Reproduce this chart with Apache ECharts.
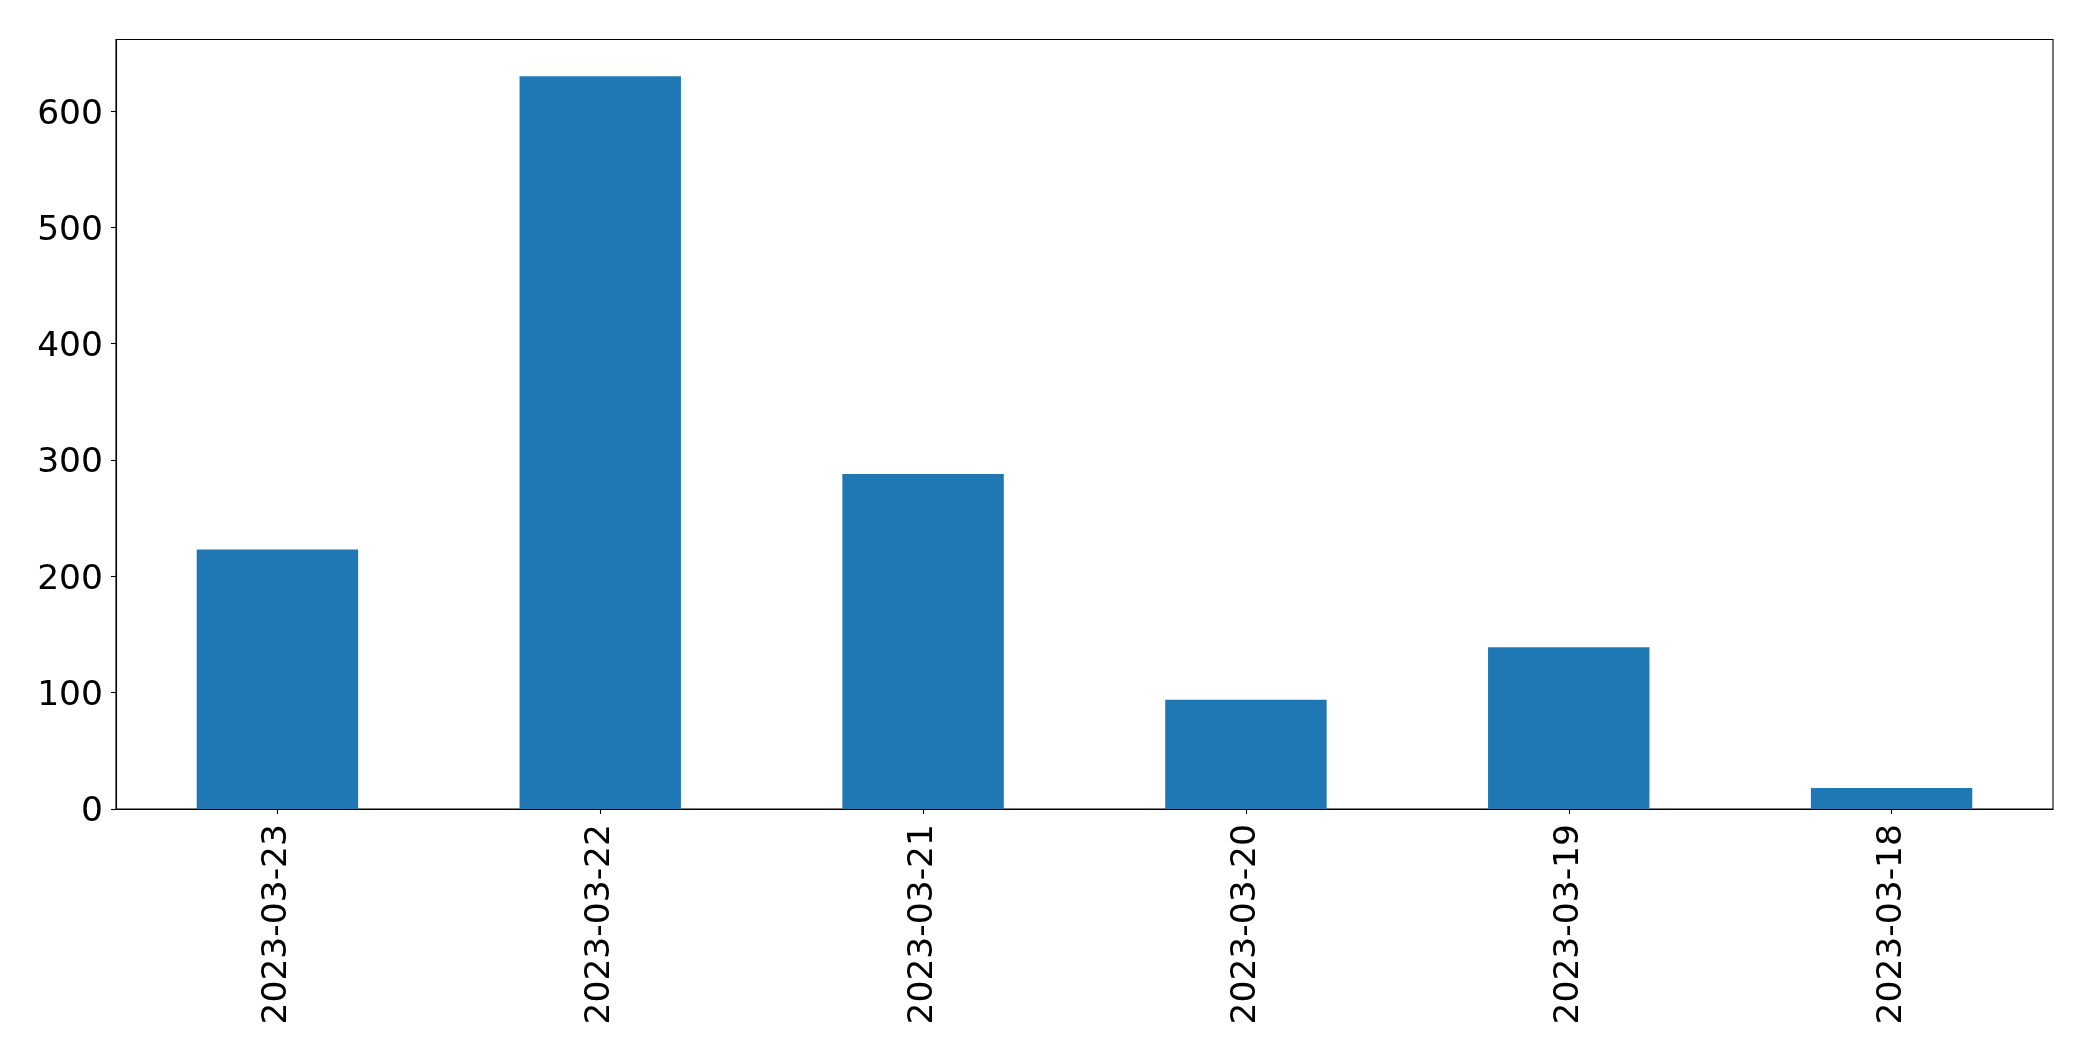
<!DOCTYPE html>
<html>
<head>
<meta charset="utf-8">
<script src="https://cdn.jsdelivr.net/npm/echarts@6/dist/echarts.min.js"></script>
<style>
html,body{margin:0;padding:0;background:#fff;}
#chart{width:2093px;height:1061px;}
</style>
</head>
<body>
<div id="chart"></div>
<script>
var categories = ['2023-03-23', '2023-03-22', '2023-03-21', '2023-03-20', '2023-03-19', '2023-03-18'];
var values = [223, 630, 288, 94, 139, 18];
var yTicks = [0, 100, 200, 300, 400, 500, 600];

var chart = echarts.init(document.getElementById('chart'), null, {renderer: 'canvas'});
var font = 'DejaVu Sans';
chart.setOption({
  animation: false,
  backgroundColor: '#ffffff',
  grid: {
    left: 116, top: 39.5, right: 40, bottom: 252,
    show: true, borderColor: '#000000', borderWidth: 1.1, backgroundColor: 'transparent',
    containLabel: false
  },
  xAxis: {
    type: 'category',
    data: categories,
    boundaryGap: true,
    axisLine: {show: true, lineStyle: {color: '#000', width: 1.1}},
    axisTick: {show: true, alignWithLabel: true, length: 5, lineStyle: {color: '#000', width: 1.1}},
    axisLabel: {rotate: 90, margin: 15, color: '#000', fontFamily: font, fontSize: 34.5},
    splitLine: {show: false}
  },
  yAxis: {
    type: 'value',
    min: 0,
    max: 661.5,
    interval: 100,
    axisLine: {show: true, lineStyle: {color: '#000', width: 1.1}},
    axisTick: {show: true, length: 5, lineStyle: {color: '#000', width: 1.1}, customValues: yTicks},
    axisLabel: {
      margin: 13, color: '#000', fontFamily: font, fontSize: 34.5, customValues: yTicks,
      formatter: '{v|{value}}',
      rich: {v: {color: '#000', fontFamily: font, fontSize: 34.5, padding: [7, 0, 0, 0]}}
    },
    splitLine: {show: false}
  },
  series: [{
    type: 'bar',
    data: values,
    barWidth: '50%',
    itemStyle: {color: '#1f77b4'}
  }]
});
</script>
</body>
</html>
